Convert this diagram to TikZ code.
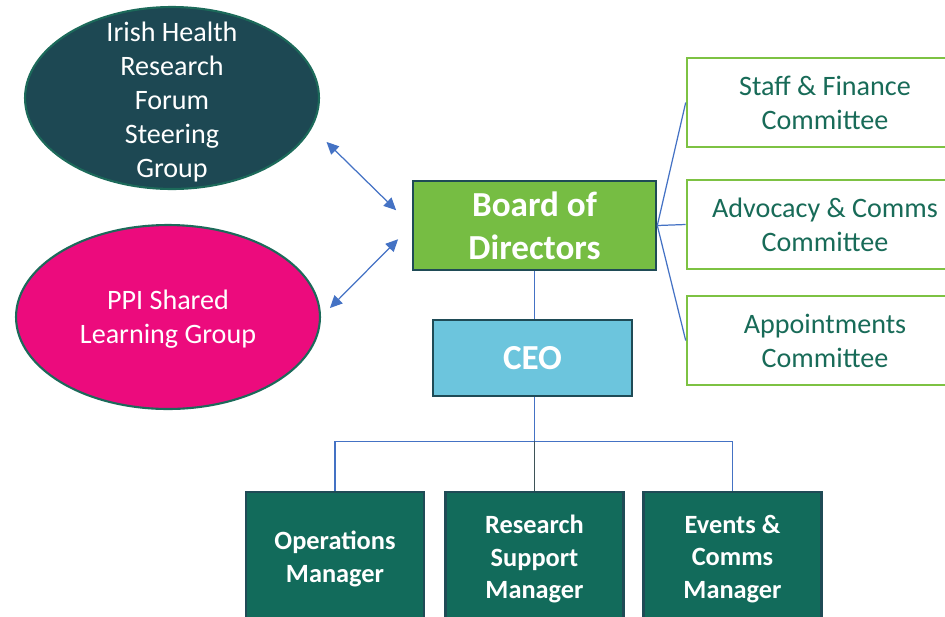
\documentclass[tikz,border=0pt]{standalone}
\usepackage{fontspec}
\setmainfont{Carlito}
\usetikzlibrary{shapes.geometric,arrows.meta}

\definecolor{forumteal}{HTML}{1D4853}
\definecolor{forumedge}{HTML}{1C6A5A}
\definecolor{ppipink}{HTML}{EC0B7D}
\definecolor{boardgreen}{HTML}{76BD43}
\definecolor{darkedge}{HTML}{1F4B56}
\definecolor{ceoblue}{HTML}{6CC5DD}
\definecolor{mgrteal}{HTML}{126B5B}
\definecolor{cttgreen}{HTML}{7DC243}
\definecolor{ctttext}{HTML}{186B58}
\definecolor{linkblue}{HTML}{4472C4}
\definecolor{stemgrey}{HTML}{3E5358}

\begin{document}
\begin{tikzpicture}[x=0.02cm, y=-0.02cm,
	blob/.style={ellipse, draw=forumedge, line width=1.2pt, inner sep=0pt},
	blobtext/.style={text=white, align=center, font=\fontsize{16}{19.3}\selectfont},
	topbox/.style={rectangle, draw=darkedge, line width=1.5pt, text=white, align=center,
		font=\fontsize{20}{24.4}\selectfont\bfseries},
	cttbox/.style={rectangle, draw=cttgreen, line width=1.5pt, fill=white, text=ctttext, align=center,
		minimum width=5.52cm, minimum height=1.78cm, font=\fontsize{16}{19.3}\selectfont},
	mgrbox/.style={rectangle, draw=darkedge, line width=1.2pt, fill=mgrteal, text=white, align=center,
		minimum width=3.56cm, minimum height=2.68cm, font=\fontsize{15}{18.7}\selectfont\bfseries},
	link/.style={draw=linkblue, line width=0.7pt},
	twoway/.style={link, {Triangle[length=7pt,width=6.5pt]}-{Triangle[length=7pt,width=6.5pt]}}]

	\useasboundingbox (0,0) rectangle (945,616);

	% forum and learning group
	\node[blob, fill=forumteal, minimum width=5.88cm, minimum height=3.64cm,
		label={[blobtext, yshift=-2.3pt]center:Irish Health\\Research\\Forum\\Steering\\Group}] (forum) at (172,98) {};
	\node[blob, fill=ppipink, minimum width=6.08cm, minimum height=3.68cm,
		label={[blobtext, yshift=-1.2pt]center:PPI Shared\\Learning Group}] (ppi) at (168,317) {};

	% board and ceo
	\node[topbox, fill=boardgreen, minimum width=4.86cm, minimum height=1.78cm] (board) at (534.5,225.5) {Board of\\Directors};
	\node[topbox, fill=ceoblue, minimum width=3.98cm, minimum height=1.52cm] (ceo) at (532.5,358) {CEO};

	% committees
	\node[cttbox] (staff) at (825,102.5) {Staff \& Finance\\Committee};
	\node[cttbox] (advocacy) at (825,224.5) {Advocacy \& Comms\\Committee};
	\node[cttbox] (appoint) at (825,340.5) {Appointments\\Committee};

	% managers
	\node[mgrbox] (ops) at (335,559) {Operations\\Manager};
	\node[mgrbox] (research) at (534.5,559) {Research\\Support\\Manager};
	\node[mgrbox] (events) at (732.5,559) {Events \&\\Comms\\Manager};

	\draw[twoway, shorten <=11.5pt, shorten >=12.4pt] (forum.-12) -- (board.west);
	\draw[twoway, shorten <=11pt, shorten >=7.2pt] (board.west) -- (ppi.east);

	\draw[link] (board.east) -- (staff.west);
	\draw[link] (board.east) -- (advocacy.west);
	\draw[link] (board.east) -- (appoint.west);

	\draw[link] (board.south) -- (board.south |- ceo.north);
	\draw[link] (board.south |- ceo.south) -- ++(0,44) coordinate (split);
	\draw[link] (ops.north) |- (split) -| (events.north);
	\draw[draw=stemgrey, line width=0.7pt] (split) -- (split |- research.north);
\end{tikzpicture}
\end{document}
